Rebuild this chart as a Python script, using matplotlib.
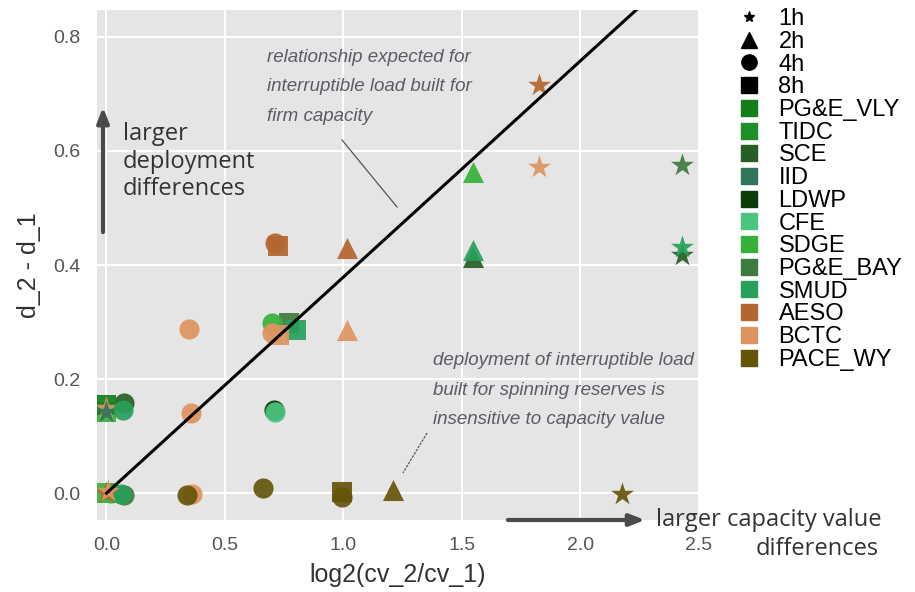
import matplotlib
matplotlib.use("Agg")
import matplotlib.pyplot as plt
import numpy as np
from matplotlib.lines import Line2D

plt.style.use("ggplot")
plt.rcParams["font.family"] = ["Liberation Sans", "DejaVu Sans"]

# regions and their colours
regions = ["PG&E_VLY", "TIDC", "SCE", "IID", "LDWP", "CFE", "SDGE",
           "PG&E_BAY", "SMUD", "AESO", "BCTC", "PACE_WY"]
region_colors = ["#127f1b", "#1f8f27", "#275e25", "#31755a", "#0b3d0b", "#4bc47f",
                 "#36b23b", "#3e7b3e", "#27a05b", "#b3662f", "#de945e", "#65550a"]

# storage durations and markers
hours = ["1h", "2h", "4h", "8h"]
hour_markers = ["*", "^", "o", "s"]

# one entry per scenario pair: region, duration, log2(cv_2/cv_1), d_2 - d_1
pt_region = ["SDGE", "SDGE", "PG&E_BAY", "SMUD", "AESO", "BCTC",
             "SCE", "SDGE", "PG&E_VLY", "BCTC", "IID", "SMUD",
             "BCTC", "PACE_WY", "BCTC", "BCTC", "PACE_WY",
             "LDWP", "CFE",
             "PG&E_BAY", "SDGE", "SMUD", "BCTC", "BCTC",
             "AESO", "AESO",
             "AESO", "BCTC", "PACE_WY", "PACE_WY", "PACE_WY",
             "SCE", "SMUD", "SDGE",
             "AESO", "BCTC", "PACE_WY",
             "SCE", "SMUD", "PG&E_BAY"]
pt_hours = ["8h", "4h", "4h", "4h", "1h", "1h",
            "4h", "8h", "8h", "1h", "1h", "4h",
            "4h", "4h", "4h", "4h", "4h",
            "4h", "4h",
            "8h", "4h", "8h", "8h", "4h",
            "4h", "8h",
            "2h", "2h", "8h", "4h", "2h",
            "2h", "2h", "2h",
            "1h", "1h", "1h",
            "1h", "1h", "1h"]
pt_x = [0.00, 0.02, 0.075, 0.06, 0.00, 0.005,
        0.075, 0.00, 0.00, 0.00, 0.00, 0.07,
        0.36, 0.34, 0.35, 0.358, 0.66,
        0.705, 0.71,
        0.77, 0.70, 0.80, 0.73, 0.70,
        0.71, 0.725,
        1.015, 1.015, 0.995, 0.995, 1.21,
        1.547, 1.547, 1.547,
        1.827, 1.827, 2.177,
        2.43, 2.43, 2.43]
pt_y = [0.000, 0.000, -0.003, -0.002, 0.000, 0.004,
        0.158, 0.143, 0.155, 0.150, 0.143, 0.146,
        -0.002, -0.004, 0.288, 0.140, 0.009,
        0.145, 0.142,
        0.298, 0.298, 0.286, 0.278, 0.281,
        0.439, 0.433,
        0.430, 0.286, 0.002, -0.006, 0.005,
        0.414, 0.427, 0.563,
        0.716, 0.572, -0.002,
        0.418, 0.432, 0.575]

# line expected for interruptible load built for firm capacity
line_slope = 0.379
line_x = np.array([0.0, 2.6])

color_of = dict(zip(regions, region_colors))
marker_of = dict(zip(hours, hour_markers))
size_of = {"*": 300, "^": 230, "o": 210, "s": 190}

fig = plt.figure(figsize=(9.15, 5.92), dpi=100)
ax = fig.add_axes([97 / 915, 72 / 592, 602 / 915, 510 / 592])
ax.set_facecolor("#e5e5e5")
ax.grid(True, color="white", linewidth=1.5)

for r, h, x, y in zip(pt_region, pt_hours, pt_x, pt_y):
    m = marker_of[h]
    ax.scatter(x, y, marker=m, s=size_of[m], color=color_of[r],
               alpha=0.92, linewidths=0, zorder=3)

ax.plot(line_x, line_slope * line_x, color="black", lw=2.2, zorder=4)

ax.set_xlim(-0.04, 2.5)
ax.set_ylim(-0.047, 0.847)
ax.set_xticks([0, 0.5, 1.0, 1.5, 2.0, 2.5])
ax.set_yticks([0, 0.2, 0.4, 0.6, 0.8])
ax.set_xticklabels(["0.0", "0.5", "1.0", "1.5", "2.0", "2.5"])
ax.set_yticklabels(["0.0", "0.2", "0.4", "0.6", "0.8"])
ax.tick_params(length=0, pad=12, labelsize=14, colors="#555555")
for sp in ax.spines.values():
    sp.set_visible(False)
ax.set_xlabel("log2(cv_2/cv_1)", fontsize=18, color="#333333", labelpad=7)
ax.set_ylabel("d_2 - d_1", fontsize=18, color="#333333", labelpad=9)

# legend: durations first, then regions
handles = []
for h, m in zip(hours, hour_markers):
    handles.append(Line2D([], [], ls="none", marker=m, color="black",
                          markersize=8 if m == "*" else 11, label=h))
for r, c in zip(regions, region_colors):
    handles.append(Line2D([], [], ls="none", marker="s", color=c,
                          markersize=11, label=r))
fig.legend(handles=handles, loc="upper left", bbox_to_anchor=(723 / 915, 1.01),
           frameon=False, fontsize=17, labelspacing=0.03, handlelength=1.0,
           handletextpad=0.75, borderaxespad=0.2)

# call-out arrows and notes
big_font = ["Open Sans", "DejaVu Sans"]
ax.annotate("", xy=(0.01, 0.815), xytext=(0.01, 0.559), xycoords="axes fraction",
            arrowprops=dict(arrowstyle="-|>,head_length=0.9,head_width=0.35",
                            color="#4a4a4a", lw=3), annotation_clip=False)
ax.text(0.043, 0.78, "larger\ndeployment\ndifferences", transform=ax.transAxes,
        ha="left", va="top", fontsize=17, color="#333333", linespacing=1.2,
        family=big_font)
ax.annotate("", xy=(0.915, 0.0), xytext=(0.678, 0.0), xycoords="axes fraction",
            arrowprops=dict(arrowstyle="-|>,head_length=0.9,head_width=0.35",
                            color="#4a4a4a", lw=3), annotation_clip=False)
fig.text(0.717, 0.121, "larger capacity value", ha="left", va="center",
         fontsize=17, color="#333333", family=big_font)
fig.text(0.960, 0.072, "differences", ha="right", va="center",
         fontsize=17, color="#333333", family=big_font)

note_font = ["Liberation Sans", "DejaVu Sans"]
fig.text(0.292, 0.918, "relationship expected for\ninterruptible load built for\nfirm capacity",
         ha="left", va="top", fontsize=13.5, style="italic", color="#5c5c68",
         linespacing=1.97, family=note_font)
fig.add_artist(Line2D([0.3738, 0.4339], [0.7635, 0.6503], transform=fig.transFigure,
                      color="#555555", lw=0.9))
fig.text(0.473, 0.405, "deployment of interruptible load\nbuilt for spinning reserves is\ninsensitive to capacity value",
         ha="left", va="top", fontsize=13.5, style="italic", color="#5c5c68",
         linespacing=1.97, family=note_font)
fig.add_artist(Line2D([0.4667, 0.4404], [0.2686, 0.2010], transform=fig.transFigure,
                      color="#555555", lw=0.9, ls=(0, (2, 1))))

fig.savefig("out.png", dpi=100)
